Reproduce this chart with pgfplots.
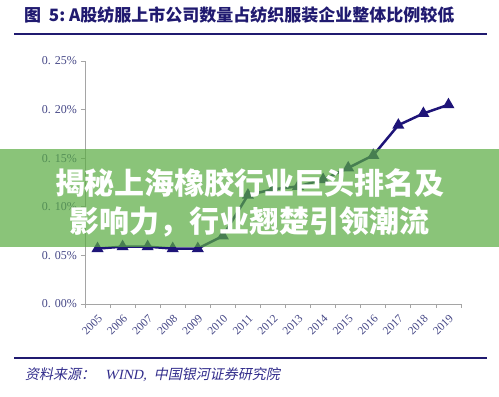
\documentclass[border=0pt]{standalone}
\usepackage{fontspec}
\usepackage{pgfplots}
\pgfplotsset{compat=1.18}
\setmainfont{Liberation Serif}
\newfontfamily\cjk{Noto Sans CJK SC}
\newfontfamily\cjkslant{Noto Sans CJK SC}[FakeSlant=0.2]
\newfontfamily\latslant{Liberation Serif}[FakeSlant=0.2]
\definecolor{navy}{RGB}{32,26,112}
\definecolor{tickc}{RGB}{70,72,135}
\definecolor{linec}{RGB}{30,20,120}
\definecolor{banner}{RGB}{89,172,65}
\definecolor{axc}{RGB}{165,165,165}
\definecolor{srcc}{RGB}{50,45,140}

\begin{document}
\begin{tikzpicture}[x=1pt,y=1pt]
\useasboundingbox (0,0) rectangle (499,397);
\fill[white] (0,0) rectangle (499,397);
\node[anchor=west, text=navy, font=\cjk\bfseries\fontsize{17}{19}\selectfont, inner sep=0pt] at (24,382) {图\ \ 5:\ A股纺服上市公司数量占纺织服装企业整体比例较低};
\draw[navy, line width=2.4pt] (14,363) -- (487,363);
\begin{axis}[
  at={(85pt,93pt)}, anchor=south west, scale only axis,
  width=376pt, height=243pt,
  xmin=-0.5, xmax=14.5, ymin=0, ymax=0.25,
  axis x line*=bottom, axis y line*=left,
  axis line style={draw=axc, line width=0.8pt, -},
  tick align=outside,
  xtick={0,1,2,3,4,5,6,7,8,9,10,11,12,13,14},
  xticklabels={2005,2006,2007,2008,2009,2010,2011,2012,2013,2014,2015,2016,2017,2018,2019},
  xtick style={draw=none},
  minor xtick={-0.5,0.5,1.5,2.5,3.5,4.5,5.5,6.5,7.5,8.5,9.5,10.5,11.5,12.5,13.5,14.5},
  minor x tick style={draw=axc, line width=0.8pt},
  minor tick length=4pt,
  ytick={0,0.05,0.1,0.15,0.2,0.25},
  yticklabels={0. 00\%,0. 05\%,0. 10\%,0. 15\%,0. 20\%,0. 25\%},
  ytick style={draw=axc, line width=0.8pt},
  major tick length=4pt,
  yticklabel style={font=\fontsize{12}{14}\selectfont, text=tickc, inner sep=1pt, xshift=-3pt},
  xticklabel style={rotate=45, anchor=north east, font=\fontsize{11.5}{13}\selectfont, text=tickc, inner sep=4pt},
  clip=false,
]
\addplot[linec, line width=2.5pt, mark=triangle*, mark size=4.5pt, mark options={solid}] coordinates {
(0,0.057)(1,0.059)(2,0.059)(3,0.057)(4,0.057)(5,0.070)(6,0.112)(7,0.118)(8,0.121)(9,0.128)(10,0.140)(11,0.153)(12,0.184)(13,0.196)(14,0.205)};
\end{axis}
\fill[banner, opacity=0.7] (0,150) rectangle (499,248);
\node[text=white, font=\cjk\bfseries\fontsize{30}{35}\selectfont, inner sep=0pt] at (250,214) {揭秘上海橡胶行业巨头排名及};
\node[text=white, font=\cjk\bfseries\fontsize{30}{35}\selectfont, inner sep=0pt] at (250,175) {影响力，行业翘楚引领潮流};
\draw[navy, line width=2.4pt] (14,39) -- (487,39);
\node[anchor=west, text=srcc, font=\fontsize{14}{16}\selectfont, inner sep=0pt] at (25,22) {\cjkslant 资料来源：\hspace{10pt}\latslant WIND,\ \ \cjkslant 中国银河证券研究院};
\end{tikzpicture}
\end{document}
